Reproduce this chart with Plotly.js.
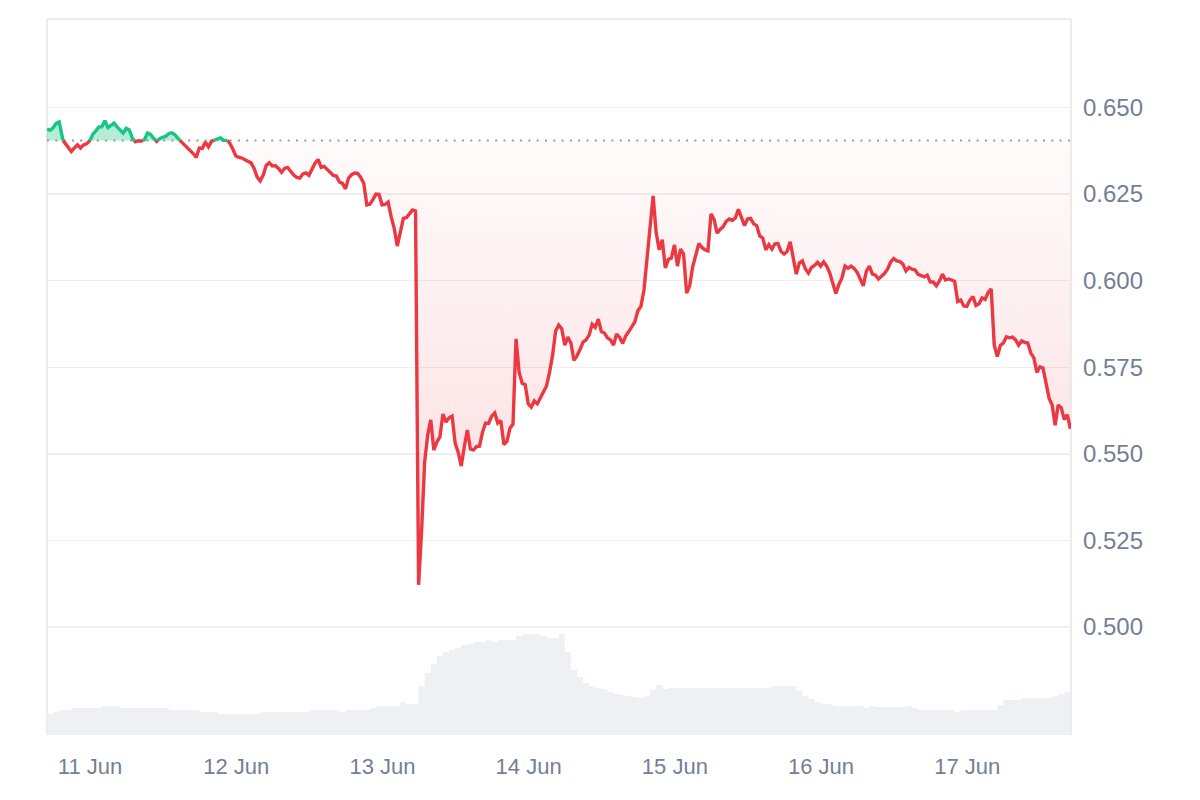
<!DOCTYPE html>
<html>
<head>
<meta charset="utf-8">
<script src="https://cdn.plot.ly/plotly-3.0.1.min.js"></script>
<style>
  html, body { margin: 0; padding: 0; background: #ffffff; }
  #chart { width: 1200px; height: 800px; }
</style>
</head>
<body>
<div id="chart"></div>
<script>
// ---- data ----
const START = '2024-06-10T16:56:00';   // first sample
const PRICE_STEP_MIN = 30;             // price sampled every 30 minutes
const VOLUME_STEP_MIN = 60;            // volume sampled hourly
const BASELINE = 0.6405;               // opening price (dotted reference line)

const price = [
  0.6438, 0.6434, 0.6441, 0.6454, 0.6458, 0.6408, 0.6396, 0.6385, 0.6373, 0.6383,
  0.6392, 0.6383, 0.6392, 0.6395, 0.6402, 0.6422, 0.6432, 0.6444, 0.6444, 0.6462,
  0.6442, 0.6449, 0.6455, 0.6444, 0.6435, 0.6426, 0.6440, 0.6435, 0.6412, 0.6401,
  0.6404, 0.6403, 0.6407, 0.6426, 0.6422, 0.6411, 0.6402, 0.6410, 0.6414, 0.6417,
  0.6425, 0.6427, 0.6421, 0.6410, 0.6402, 0.6393, 0.6386, 0.6377, 0.6367, 0.6356,
  0.6383, 0.6382, 0.6400, 0.6386, 0.6402, 0.6406, 0.6409, 0.6412, 0.6405, 0.6407,
  0.6397, 0.6380, 0.6360, 0.6356, 0.6354, 0.6349, 0.6344, 0.6340, 0.6324, 0.6299,
  0.6288, 0.6305, 0.6333, 0.6340, 0.6331, 0.6332, 0.6324, 0.6313, 0.6324, 0.6327,
  0.6316, 0.6305, 0.6298, 0.6296, 0.6308, 0.6311, 0.6304, 0.6324, 0.6339, 0.6350,
  0.6327, 0.6330, 0.6322, 0.6311, 0.6304, 0.6302, 0.6285, 0.6281, 0.6265, 0.6296,
  0.6306, 0.6311, 0.6310, 0.6298, 0.6281, 0.6219, 0.6221, 0.6234, 0.6250, 0.6249,
  0.6219, 0.6220, 0.6227, 0.6184, 0.6151, 0.6100, 0.6145, 0.6180, 0.6182, 0.6192,
  0.6204, 0.6201, 0.5122, 0.5280, 0.5477, 0.5555, 0.5598, 0.5511, 0.5534, 0.5549,
  0.5615, 0.5592, 0.5604, 0.5609, 0.5531, 0.5505, 0.5465, 0.5520, 0.5569, 0.5514,
  0.5511, 0.5521, 0.5522, 0.5563, 0.5589, 0.5588, 0.5609, 0.5618, 0.5589, 0.5596,
  0.5527, 0.5536, 0.5574, 0.5586, 0.5832, 0.5736, 0.5704, 0.5700, 0.5644, 0.5635,
  0.5653, 0.5645, 0.5663, 0.5676, 0.5696, 0.5736, 0.5785, 0.5855, 0.5872, 0.5861,
  0.5814, 0.5837, 0.5820, 0.5770, 0.5783, 0.5801, 0.5823, 0.5829, 0.5843, 0.5874,
  0.5865, 0.5889, 0.5853, 0.5849, 0.5835, 0.5829, 0.5814, 0.5846, 0.5836, 0.5819,
  0.5840, 0.5853, 0.5866, 0.5881, 0.5913, 0.5926, 0.5973, 0.6068, 0.6141, 0.6245,
  0.6138, 0.6089, 0.6118, 0.6037, 0.6061, 0.6065, 0.6103, 0.6042, 0.6091, 0.6077,
  0.5964, 0.5985, 0.6040, 0.6076, 0.6107, 0.6096, 0.6089, 0.6086, 0.6193, 0.6177,
  0.6137, 0.6148, 0.6156, 0.6171, 0.6178, 0.6174, 0.6181, 0.6206, 0.6185, 0.6159,
  0.6178, 0.6180, 0.6164, 0.6159, 0.6129, 0.6123, 0.6089, 0.6104, 0.6091, 0.6106,
  0.6107, 0.6084, 0.6077, 0.6084, 0.6112, 0.6060, 0.6019, 0.6051, 0.6057, 0.6034,
  0.6022, 0.6038, 0.6044, 0.6053, 0.6042, 0.6054, 0.6042, 0.6022, 0.5989, 0.5963,
  0.5989, 0.6008, 0.6042, 0.6036, 0.6042, 0.6035, 0.6024, 0.6002, 0.5985, 0.6027,
  0.6042, 0.6019, 0.6016, 0.6005, 0.6014, 0.6021, 0.6034, 0.6054, 0.6064, 0.6057,
  0.6055, 0.6048, 0.6028, 0.6038, 0.6033, 0.6031, 0.6018, 0.6014, 0.6011, 0.6016,
  0.5996, 0.5996, 0.5985, 0.5999, 0.6019, 0.6002, 0.6005, 0.6002, 0.5998, 0.5940,
  0.5944, 0.5927, 0.5926, 0.5944, 0.5954, 0.5928, 0.5933, 0.5950, 0.5946, 0.5966,
  0.5976, 0.5814, 0.5781, 0.5813, 0.5820, 0.5838, 0.5835, 0.5837, 0.5829, 0.5814,
  0.5826, 0.5822, 0.5820, 0.5791, 0.5777, 0.5735, 0.5751, 0.5748, 0.5702, 0.5661,
  0.5641, 0.5583, 0.5641, 0.5633, 0.5599, 0.5613, 0.5572
];

// trading volume (relative units, hourly)
const volume = [
  21, 23, 25, 25, 27, 27, 27, 27, 27, 29, 29, 29, 27, 27, 27, 27, 27, 27, 27, 27,
  25, 25, 25, 25, 25, 23, 23, 23, 21, 21, 21, 21, 21, 21, 21, 23, 23, 23, 23, 23,
  23, 23, 23, 25, 25, 25, 25, 25, 23, 25, 25, 25, 25, 27, 29, 29, 29, 29, 33, 31,
  31, 49, 62, 71, 79, 83, 85, 87, 90, 91, 93, 93, 95, 93, 95, 95, 95, 99, 101, 101,
  101, 99, 97, 97, 101, 83, 65, 58, 52, 49, 47, 46, 43, 41, 40, 39, 38, 37, 39, 45,
  50, 46, 47, 47, 47, 47, 47, 47, 47, 47, 47, 47, 47, 47, 47, 47, 47, 47, 47, 49,
  49, 49, 49, 44, 39, 36, 33, 31, 31, 29, 29, 29, 29, 29, 27, 29, 28, 28, 28, 28,
  28, 29, 27, 25, 25, 25, 25, 25, 25, 23, 25, 25, 25, 25, 25, 25, 30, 35, 35, 35,
  37, 37, 37, 37, 37, 39, 41, 43, 43
];

const priceTickVals = [0.500, 0.525, 0.550, 0.575, 0.600, 0.625, 0.650];
const priceTickText = ['0.500', '0.525', '0.550', '0.575', '0.600', '0.625', '0.650'];
const dayTickVals = ['2024-06-11', '2024-06-12', '2024-06-13', '2024-06-14', '2024-06-15', '2024-06-16', '2024-06-17'];
const dayTickText = ['11 Jun', '12 Jun', '13 Jun', '14 Jun', '15 Jun', '16 Jun', '17 Jun'];
const X_RANGE = ['2024-06-10 16:56', '2024-06-17 17:02'];
const PRICE_RANGE = [0.46885, 0.67554];
const VOLUME_RANGE = [0, 716];

// ---- helpers ----
const t0 = Date.parse(START + 'Z');
function fmt(ms) { return new Date(ms).toISOString().slice(0, 19).replace('T', ' '); }
function sampleTimes(n, stepMin) {
  const out = [];
  for (let i = 0; i < n; i++) out.push(t0 + i * stepMin * 60000);
  return out;
}

const priceMs = sampleTimes(price.length, PRICE_STEP_MIN);
const volTimes = sampleTimes(volume.length, VOLUME_STEP_MIN).map(fmt);

// insert exact crossing points with the baseline so colours switch cleanly
const T = [], P = [];
for (let i = 0; i < price.length; i++) {
  T.push(priceMs[i]); P.push(price[i]);
  if (i < price.length - 1) {
    const a = price[i] - BASELINE, b = price[i + 1] - BASELINE;
    if (a * b < 0) {
      const f = a / (a - b);
      T.push(priceMs[i] + f * (priceMs[i + 1] - priceMs[i]));
      P.push(BASELINE);
    }
  }
}
const TX = T.map(fmt);
const baseY = P.map(() => BASELINE);
const lowY = P.map(p => Math.min(p, BASELINE));
const highY = P.map(p => Math.max(p, BASELINE));
const redY = P.map(p => (p <= BASELINE + 1e-12 ? p : null));
const greenY = P.map(p => (p >= BASELINE - 1e-12 ? p : null));

const RED = '#ea3943';
const GREEN = '#16c784';
const FONT = 'Liberation Sans, Arial, Helvetica, sans-serif';
const LABEL = '#737f95';

const traces = [
  { // volume area
    x: volTimes, y: volume, type: 'scatter', mode: 'lines', yaxis: 'y',
    line: { width: 0, shape: 'hv' }, fill: 'tozeroy', fillcolor: 'rgb(238,240,244)',
    hoverinfo: 'skip'
  },
  { x: TX, y: baseY, type: 'scatter', mode: 'lines', yaxis: 'y2', line: { width: 0 }, hoverinfo: 'skip' },
  { // red fill under baseline
    x: TX, y: lowY, type: 'scatter', mode: 'lines', yaxis: 'y2', line: { width: 0 },
    fill: 'tonexty',
    fillgradient: {
      type: 'vertical',
      start: Math.min(...price), stop: BASELINE,
      colorscale: [[0, 'rgba(234,57,67,0.18)'], [1, 'rgba(234,57,67,0.02)']]
    },
    hoverinfo: 'skip'
  },
  { x: TX, y: baseY, type: 'scatter', mode: 'lines', yaxis: 'y2', line: { width: 0 }, hoverinfo: 'skip' },
  { // green fill above baseline
    x: TX, y: highY, type: 'scatter', mode: 'lines', yaxis: 'y2', line: { width: 0 },
    fill: 'tonexty', fillcolor: 'rgba(22,199,132,0.32)', hoverinfo: 'skip'
  },
  { // dotted baseline
    x: [TX[0], TX[TX.length - 1]], y: [BASELINE, BASELINE], type: 'scatter', mode: 'lines', yaxis: 'y2',
    line: { color: '#9a9a9a', width: 2, dash: '2px,6.3px' }, hoverinfo: 'skip'
  },
  { x: TX, y: redY, type: 'scatter', mode: 'lines', yaxis: 'y2', connectgaps: false,
    line: { color: RED, width: 3.4 } },
  { x: TX, y: greenY, type: 'scatter', mode: 'lines', yaxis: 'y2', connectgaps: false,
    line: { color: GREEN, width: 3.4 } }
];

const frame = '#ebebeb';
const layout = {
  width: 1200, height: 800,
  margin: { l: 47, r: 129, t: 19, b: 65, pad: 0 },
  paper_bgcolor: '#ffffff', plot_bgcolor: '#ffffff',
  showlegend: false,
  xaxis: {
    type: 'date', range: X_RANGE,
    tickmode: 'array', tickvals: dayTickVals, ticktext: dayTickText,
    showgrid: false, zeroline: false, showline: false, ticks: '',
    tickfont: { family: FONT, size: 22, color: LABEL },
    ticklabelstandoff: 16, fixedrange: true
  },
  yaxis: { range: VOLUME_RANGE, visible: false, showgrid: false, zeroline: false, fixedrange: true },
  yaxis2: {
    overlaying: 'y', side: 'right', range: PRICE_RANGE,
    tickmode: 'array', tickvals: priceTickVals, ticktext: priceTickText,
    showgrid: true, gridcolor: '#efefef', gridwidth: 1.5,
    zeroline: false, showline: false, ticks: '',
    tickfont: { family: FONT, size: 24, color: LABEL },
    ticklabelstandoff: 11, fixedrange: true
  },
  shapes: [
    { type: 'line', xref: 'paper', yref: 'paper', x0: 0, x1: 0, y0: 0, y1: 1, layer: 'below', line: { color: frame, width: 2 } },
    { type: 'line', xref: 'paper', yref: 'paper', x0: 1, x1: 1, y0: 0, y1: 1, layer: 'below', line: { color: frame, width: 2 } },
    { type: 'line', xref: 'paper', yref: 'paper', x0: 0, x1: 1, y0: 1, y1: 1, layer: 'below', line: { color: frame, width: 2 } }
  ]
};

Plotly.newPlot('chart', traces, layout, { staticPlot: true, displayModeBar: false });
</script>
</body>
</html>
